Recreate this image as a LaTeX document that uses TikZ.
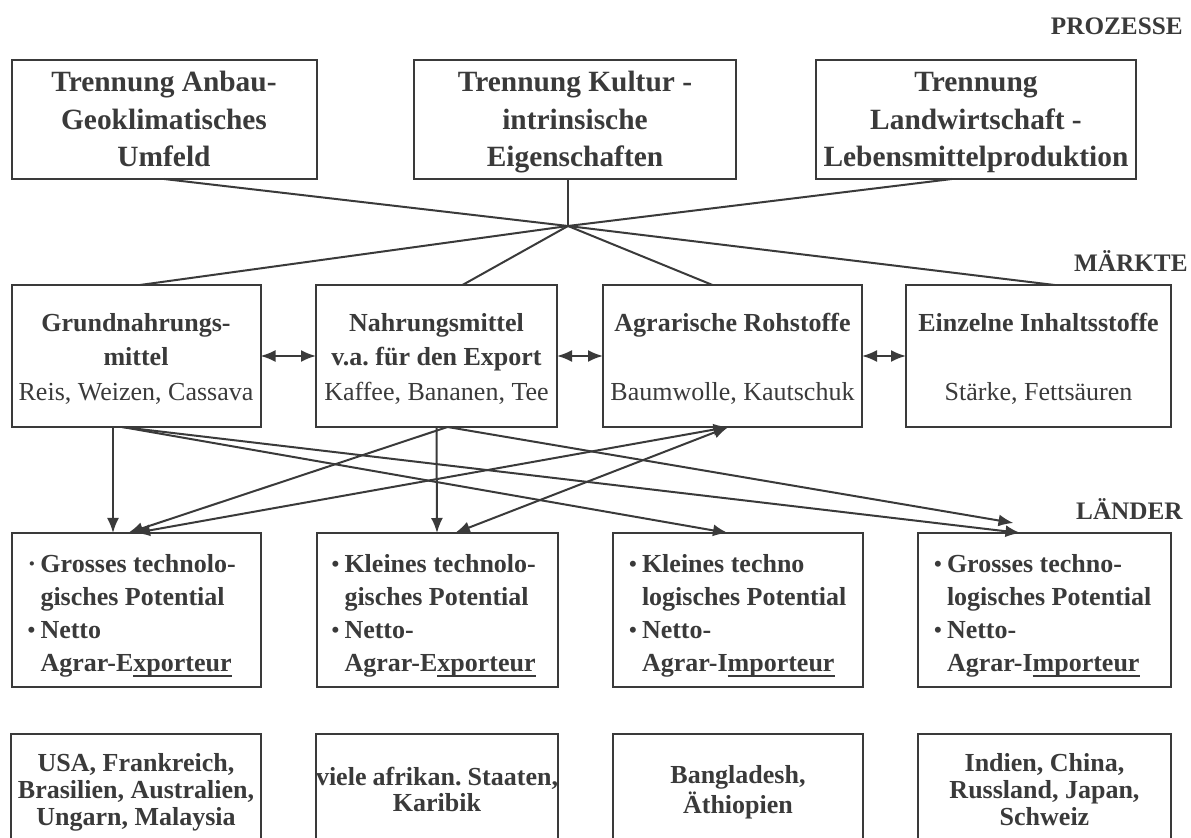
\documentclass[tikz,border=0pt]{standalone}
\usepackage{fontspec}
\setmainfont{Liberation Serif}
\usepackage{tkz-graph}
\usetikzlibrary{arrows.meta}
\frenchspacing
\definecolor{ink}{HTML}{3A3A3A}
\newcommand{\Bul}{\makebox[6.5pt][l]{\fontsize{11pt}{11pt}\selectfont\raisebox{0.5pt}{\textbullet}}}
\newcommand{\SmDot}{\makebox[6.5pt][l]{·}}
\newcommand{\Cont}{\hspace*{6.5pt}}
\newcommand{\Uline}[1]{\setbox0\hbox{#1}\rlap{\rule[-3pt]{\wd0}{1.2pt}}\box0}

\begin{document}
\begin{tikzpicture}[x=0.5pt,y=0.5pt]
	\tikzset{
	  VertexStyle/.style = { shape = rectangle, draw = ink, text = ink,
	                         line width = 1pt, inner sep = 0pt },
	  EdgeStyle/.style = { draw = ink, line width = 1pt },
	  TitleStyle/.style = { text = ink, inner sep = 0pt, anchor = base east,
	                        font = \fontsize{12.6pt}{14pt}\selectfont\bfseries },
	  >={Latex[length=7.5pt,width=6pt]} }
	\clip (0,0) rectangle (1191,-838);
	% Prozesse
	\begin{scope}[VertexStyle/.append style = {minimum height = 59.5pt, align = flush center,
	                                           font = \fontsize{14.7pt}{18.75pt}\selectfont\bfseries,
	                                           execute at begin node = {\rule{0pt}{14pt}},
	                                           execute at end node = {\rule[-4pt]{0pt}{0pt}}}]
	\Vertex[x=164,y=-119.5,style={minimum width=152.5pt,text width=148pt},L={Trennung Anbau-\\Geoklimatisches\\Umfeld}]{a1}
	\Vertex[x=575,y=-119.5,style={minimum width=161pt,text width=157pt},L={Trennung Kultur -\\intrinsische\\Eigenschaften}]{a2}
	\Vertex[x=976,y=-119.5,style={minimum width=160pt,text width=157pt},L={Trennung\\Landwirtschaft -\\Lebensmittelproduktion}]{a3}
	\end{scope}
	% Maerkte
	\begin{scope}[VertexStyle/.append style = {minimum height = 71pt, align = flush center,
	                                           font = \fontsize{13pt}{17.2pt}\selectfont\bfseries,
	                                           execute at begin node = {\rule{0pt}{12.2pt}},
	                                           execute at end node = {\rule[-2.5pt]{0pt}{0pt}}}]
	\Vertex[x=136,y=-356,style={minimum width=124.5pt,text width=121pt},L={Grundnahrungs-\\mittel\\{\mdseries Reis, Weizen, Cassava}}]{b1}
	\Vertex[x=436.5,y=-356,style={minimum width=120.5pt,text width=118pt},L={Nahrungsmittel\\v.a. für den Export\\{\mdseries Kaffee, Bananen, Tee}}]{b2}
	\Vertex[x=732.5,y=-356,style={minimum width=129.5pt,text width=126pt},L={Agrarische Rohstoffe\\[17.2pt]{\mdseries Baumwolle, Kautschuk}}]{b3}
	\Vertex[x=1038.5,y=-356,style={minimum width=132.5pt,text width=129pt},L={Einzelne Inhaltsstoffe\\[17.2pt]{\mdseries Stärke, Fettsäuren}}]{b4}
	\end{scope}
	% Laender
	\begin{scope}[VertexStyle/.append style = {minimum height = 77pt, align = flush left,
	                                           font = \fontsize{13pt}{16.5pt}\selectfont\bfseries,
	                                           execute at begin node = {\rule{0pt}{14.8pt}},
	                                           execute at end node = {\rule[-3pt]{0pt}{0pt}}}]
	\Vertex[x=136,y=-610,style={minimum width=124.5pt,text width=108.5pt},L={\SmDot Grosses technolo-\\\Cont gisches Potential\\\Bul Netto\\\Cont Agrar-E\Uline{xporteur}}]{c1}
	\Vertex[x=437,y=-610,style={minimum width=120.5pt,text width=105.5pt},L={\Bul Kleines technolo-\\\Cont gisches Potential\\\Bul Netto-\\\Cont Agrar-E\Uline{xporteur}}]{c2}
	\Vertex[x=738,y=-610,style={minimum width=125pt,text width=109pt},L={\Bul Kleines techno\\\Cont logisches Potential\\\Bul Netto-\\\Cont Agrar-I\Uline{mporteur}}]{c3}
	\Vertex[x=1044.5,y=-610,style={minimum width=126.5pt,text width=110.5pt},L={\Bul Grosses techno-\\\Cont logisches Potential\\\Bul Netto-\\\Cont Agrar-I\Uline{mporteur}}]{c4}
	\end{scope}
	% Beispiele
	\begin{scope}[VertexStyle/.append style = {minimum height = 56pt, align = flush center,
	                                           font = \fontsize{13pt}{13.4pt}\selectfont\bfseries,
	                                           execute at begin node = {\rule{0pt}{11.5pt}},
	                                           execute at end node = {\rule[-3pt]{0pt}{0pt}}}]
	\Vertex[x=136,y=-790,style={minimum width=125pt,text width=123pt},L={USA, Frankreich,\\Brasilien, Australien,\\Ungarn, Malaysia}]{d1}
	\Vertex[x=437,y=-790,style={minimum width=121pt,text width=121pt},L={viele~afrikan.~Staaten,\\Karibik}]{d2}
	\Vertex[x=738,y=-790,style={minimum width=125pt,text width=123pt},L={Bangladesh,\\Äthiopien}]{d3}
	\Vertex[x=1044.5,y=-790,style={minimum width=126.5pt,text width=124pt},L={Indien, China,\\Russland, Japan,\\Schweiz}]{d4}
	\end{scope}
	\node[TitleStyle] (prozesse) at (1183,-35) {PROZESSE};
	\node[TitleStyle] (maerkte) at (1188,-272) {MÄRKTE};
	\node[TitleStyle] (laender) at (1183,-520) {LÄNDER};
	% Prozesse -> Maerkte
	\coordinate (hub) at ([xshift=-3.5pt,yshift=-23.5pt]a2.south);
	\Edge(a1.south)(hub)
	\Edge(hub|-a2.south)(hub)
	\Edge([xshift=-12pt]a3.south)(hub)
	\Edge(hub)([xshift=2pt]b1.north)
	\Edge(hub)([xshift=13pt]b2.north)
	\Edge(hub)([xshift=-10pt]b3.north)
	\Edge(hub)([xshift=8pt]b4.north)
	\Edge[style={<->}](b1)(b2)
	\Edge[style={<->}](b2)(b3)
	\Edge[style={<->}](b3)(b4)
	% Maerkte -> Laender
	\Edge[style={->}]([xshift=-11.5pt]b1.south)([xshift=-11.5pt]c1.north)
	\Edge[style={->}]([xshift=-7pt]b1.south)([xshift=-5pt]c3.north)
	\Edge[style={->}]([xshift=-7pt]b1.south)([xshift=-12pt]c4.north)
	\Edge[style={->}](b2.south)(c2.north)
	\Edge[style={->}]([xshift=5.5pt]b2.south)([xshift=-4pt]c1.north)
	\Edge[style={->}]([xshift=5.5pt]b2.south)([xshift=-15.5pt,yshift=5pt]c4.north)
	\Edge[style={<->}]([xshift=-2pt]b3.south)([xshift=-0.5pt]c1.north)
	\Edge[style={<->}]([xshift=-2pt]b3.south)([xshift=9pt]c2.north)
\end{tikzpicture}
\end{document}
